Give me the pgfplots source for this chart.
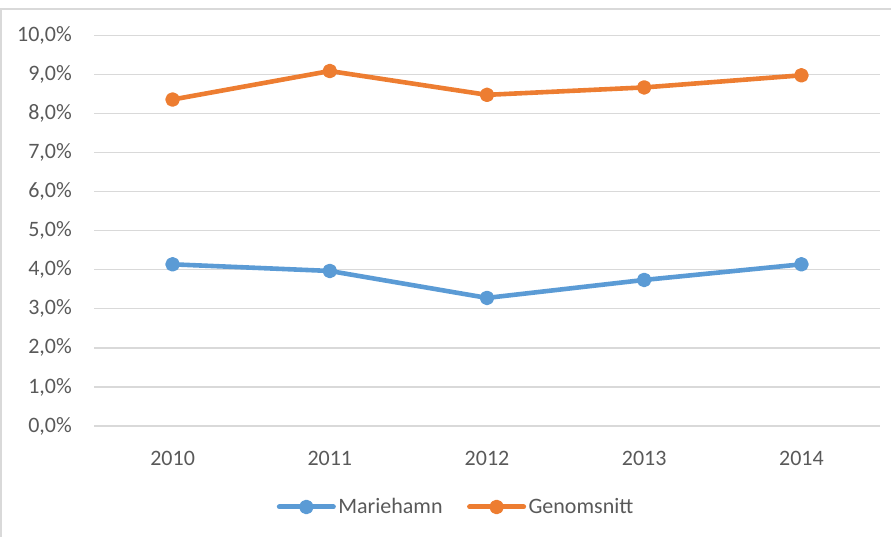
\documentclass[border=0pt]{standalone}
\usepackage{pgfplots}
\pgfplotsset{compat=1.18}
\usepackage{fontspec}
\setmainfont{Carlito}
\definecolor{cblue}{HTML}{5B9BD5}
\definecolor{corange}{HTML}{ED7D31}
\definecolor{cgrid}{HTML}{D9D9D9}
\definecolor{ctext}{HTML}{595959}
\begin{document}
\begin{tikzpicture}[x=1pt,y=1pt]
\useasboundingbox (0,0) rectangle (891,537);
\draw[cgrid, line width=1.5pt] (1,0) -- (1,528) -- (891,528);
\begin{axis}[
  at={(94pt,111pt)}, anchor=south west,
  scale only axis,
  width=786pt, height=390.5pt,
  xmin=-0.5, xmax=4.5,
  ymin=0, ymax=10,
  xtick={0,1,2,3,4},
  xticklabels={2010,2011,2012,2013,2014},
  ytick={0,1,2,3,4,5,6,7,8,9,10},
  yticklabels={{0,0\%},{1,0\%},{2,0\%},{3,0\%},{4,0\%},{5,0\%},{6,0\%},{7,0\%},{8,0\%},{9,0\%},{10,0\%}},
  axis line style={draw=none},
  major tick length=0pt,
  ymajorgrids,
  grid style={cgrid, line width=1.3pt},
  tick label style={font=\fontsize{22}{26}\selectfont, text=ctext, inner sep=0pt},
  yticklabel style={anchor=east, xshift=-22pt},
  xticklabel style={anchor=north, yshift=-25pt},
  legend columns=2,
  legend style={
    at={(0.461,-0.2074)}, anchor=center,
    draw=none, fill=none, inner sep=0pt,
    font=\fontsize{22}{26}\selectfont, text=ctext,
    nodes={inner sep=2.5pt},
    /tikz/every even column/.append style={column sep=22pt},
  },
  legend image code/.code={
    \draw[#1, line width=5pt, line cap=round] (0pt,0pt) -- (54pt,0pt);
    \path[#1] plot[mark=*] coordinates {(27pt,0pt)};
  },
  every axis plot/.append style={line width=4.6pt, line cap=round, line join=round, mark=*, mark size=5pt, mark options={solid, line width=0.5pt}},
]
\addplot[color=cblue, mark options={fill=cblue, draw=cblue}] coordinates {
  (0,4.14) (1,3.97) (2,3.28) (3,3.74) (4,4.14)
};
\addlegendentry{Mariehamn}
\addplot[color=corange, mark options={fill=corange, draw=corange}] coordinates {
  (0,8.36) (1,9.09) (2,8.48) (3,8.67) (4,8.98)
};
\addlegendentry{Genomsnitt}
\end{axis}
\end{tikzpicture}
\end{document}
